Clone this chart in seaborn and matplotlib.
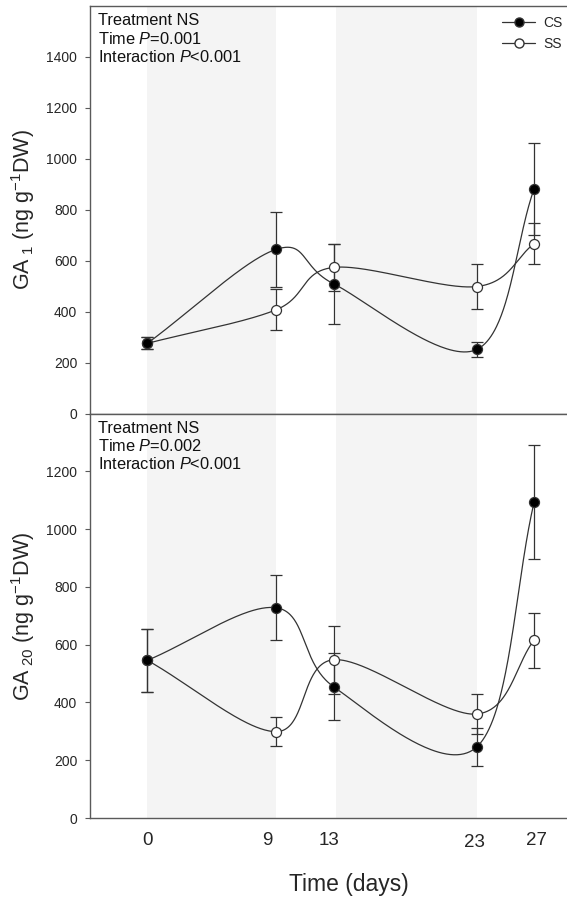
import numpy as np
import pandas as pd
import matplotlib
matplotlib.use("Agg")
import matplotlib.pyplot as plt
from matplotlib.lines import Line2D
from matplotlib.transforms import ScaledTranslation
import seaborn as sns

# ---- data -----------------------------------------------------------------
days = [0, 9, 13, 23, 27]
day_labels = ["0", "9", "13", "23", "27"]

ga1_cs = [276, 645, 510, 252, 882]
ga1_cs_err = [24, 146, 157, 31, 179]
ga1_ss = [276, 408, 574, 499, 667]
ga1_ss_err = [24, 80, 92, 89, 81]

ga20_cs = [546, 728, 455, 246, 1093]
ga20_cs_err = [108, 112, 116, 65, 197]
ga20_ss = [546, 299, 548, 360, 616]
ga20_ss_err = [108, 50, 118, 70, 95]

shaded_periods = [(0, 9), (13.2, 23)]

# ---- style ----------------------------------------------------------------
sns.set_style("white")
plt.rcParams["font.family"] = ["Liberation Sans", "DejaVu Sans"]
plt.rcParams["mathtext.fontset"] = "custom"
plt.rcParams["mathtext.rm"] = "Liberation Sans"
plt.rcParams["mathtext.it"] = "Liberation Sans:italic"
plt.rcParams["mathtext.default"] = "regular"

LINE = "#333333"
SPINE = "#5a5a5a"
SHADE = "#f4f4f4"


def smooth_curve(ax, x, y, n=80):
    """Catmull-Rom curve through the points, built in screen space."""
    pts = ax.transData.transform(np.column_stack([x, y]).astype(float))
    P = np.vstack([2 * pts[0] - pts[1], pts, 2 * pts[-1] - pts[-2]])
    t = np.linspace(0, 1, n)[:, None]
    h00 = 2 * t ** 3 - 3 * t ** 2 + 1
    h10 = t ** 3 - 2 * t ** 2 + t
    h01 = -2 * t ** 3 + 3 * t ** 2
    h11 = t ** 3 - t ** 2
    segs = []
    for i in range(1, len(P) - 2):
        p0, p1, p2, p3 = P[i - 1], P[i], P[i + 1], P[i + 2]
        m1 = (p2 - p0) / 2
        m2 = (p3 - p1) / 2
        segs.append(h00 * p1 + h10 * m1 + h01 * p2 + h11 * m2)
    disp = np.vstack(segs)
    data = ax.transData.inverted().transform(disp)
    return data[:, 0], data[:, 1]


def draw_panel(ax, cs, cs_err, ss, ss_err, ymax, yticks, ylabel, stats):
    ax.set_xlim(-4, 29.3)
    ax.set_ylim(0, ymax)

    for a, b in shaded_periods:
        ax.axvspan(a, b, color=SHADE, lw=0, zorder=0)

    for vals, errs, face in ((ss, ss_err, "white"), (cs, cs_err, "black")):
        xs, ys = smooth_curve(ax, days, vals)
        curve = pd.DataFrame({"day": xs, "value": ys})
        sns.lineplot(data=curve, x="day", y="value", ax=ax, color=LINE,
                     lw=0.9, sort=False, estimator=None, zorder=2)
        ax.errorbar(days, vals, yerr=errs, fmt="none", ecolor=LINE,
                    elinewidth=0.9, capsize=4.5, capthick=0.9, zorder=3)
        pts = pd.DataFrame({"day": days, "value": vals})
        sns.scatterplot(data=pts, x="day", y="value", ax=ax, s=52,
                        color=face, edgecolor=LINE, linewidth=0.9, zorder=4)

    ax.set_xlim(-4, 29.3)
    ax.set_ylim(0, ymax)
    ax.set_yticks(yticks)
    ax.set_yticklabels([str(v) for v in yticks])
    ax.tick_params(axis="y", which="both", left=True, direction="out",
                   length=3.6, width=0.8, color=SPINE, pad=5.5, labelsize=10)
    ax.set_ylabel(ylabel, fontsize=15.5)
    ax.yaxis.set_label_coords(-0.112, 0.5)

    for side in ("left", "top", "bottom"):
        ax.spines[side].set_color(SPINE)
        ax.spines[side].set_linewidth(1.0)
    ax.spines["right"].set_visible(False)

    ax.text(0.016, 0.982, stats, transform=ax.transAxes, ha="left", va="top",
            fontsize=11.8, linespacing=1.17, color="#111111")


fig = plt.figure(figsize=(5.67, 8.98), dpi=100)
left = 90 / 567
ax_top = fig.add_axes([left, 1 - 413.7 / 898, 1 - left, (413.7 - 6) / 898])
ax_bot = fig.add_axes([left, 1 - 818 / 898, 1 - left, (818 - 413.7) / 898])

draw_panel(ax_top, ga1_cs, ga1_cs_err, ga1_ss, ga1_ss_err, 1600,
           list(range(0, 1401, 200)),
           r"GA$_{\ 1}$ (ng g$^{-1}$DW)",
           "Treatment NS\nTime $\\mathit{P}$=0.001\nInteraction $\\mathit{P}$<0.001")
draw_panel(ax_bot, ga20_cs, ga20_cs_err, ga20_ss, ga20_ss_err, 1400,
           list(range(0, 1201, 200)),
           r"GA$_{\ 20}$ (ng g$^{-1}$DW)",
           "Treatment NS\nTime $\\mathit{P}$=0.002\nInteraction $\\mathit{P}$<0.001")

ax_top.set_xticks([])
ax_top.set_xlabel("")
ax_bot.set_xticks(days)
ax_bot.set_xticklabels(day_labels)
ax_bot.tick_params(axis="x", length=0, pad=10, labelsize=13.5)
# small per-label nudges (points) for the day labels
nudges = [(0, 0), (-6.5, 0), (-3.5, 0), (-2, -1.5), (2, 0)]
for lab, (dx, dy) in zip(ax_bot.get_xticklabels(), nudges):
    lab.set_transform(lab.get_transform()
                      + ScaledTranslation(dx / 72, dy / 72, fig.dpi_scale_trans))
ax_bot.set_xlabel("Time (days)", fontsize=16.5)
ax_bot.xaxis.set_label_coords(0.543, -0.135)

handles = [
    Line2D([], [], color=LINE, lw=0.9, marker="o", markersize=6.5,
           markerfacecolor="black", markeredgecolor=LINE),
    Line2D([], [], color=LINE, lw=0.9, marker="o", markersize=6.5,
           markerfacecolor="white", markeredgecolor=LINE),
]
ax_top.legend(handles, ["CS", "SS"], loc="upper left",
              bbox_to_anchor=(0.864, 0.975), frameon=False, fontsize=10,
              borderpad=0, borderaxespad=0, handlelength=2.4,
              handletextpad=0.55, labelspacing=0.5)

fig.savefig("out.png", dpi=100)
